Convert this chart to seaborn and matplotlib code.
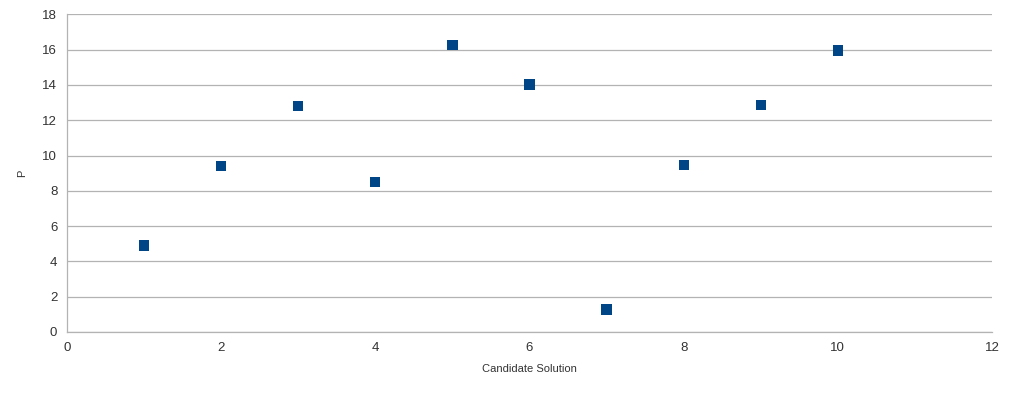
import matplotlib
matplotlib.use("Agg")
import matplotlib.pyplot as plt
import seaborn as sns
import pandas as pd

# values
candidates = [1, 2, 3, 4, 5, 6, 7, 8, 9, 10]
p_values = [4.91, 9.39, 12.81, 8.49, 16.25, 14.02, 1.28, 9.48, 12.85, 15.96]
x_ticks = [0, 2, 4, 6, 8, 10, 12]
y_ticks = [0, 2, 4, 6, 8, 10, 12, 14, 16, 18]

df = pd.DataFrame({"Candidate Solution": candidates, "P": p_values})

sns.set_style("white")
plt.rcParams["font.family"] = ["Liberation Sans", "DejaVu Sans"]

fig = plt.figure(figsize=(10.24, 3.93), dpi=100)
ax = fig.add_axes([67 / 1024, 61 / 393, 925 / 1024, 317.6 / 393])

sns.scatterplot(data=df, x="Candidate Solution", y="P", marker="s", s=55,
                color="#004586", edgecolor="none", ax=ax, zorder=3)

ax.set_xlim(0, 12)
ax.set_ylim(0, 18)
ax.set_xticks(x_ticks)
ax.set_yticks(y_ticks)
ax.yaxis.grid(True, color="#b3b3b3", linewidth=0.9)
ax.set_axisbelow(True)

for side in ["top", "right"]:
    ax.spines[side].set_visible(False)
for side in ["left", "bottom"]:
    ax.spines[side].set_color("#b3b3b3")
    ax.spines[side].set_linewidth(0.9)

ax.tick_params(axis="both", which="both", length=4, width=0.9, color="#b3b3b3",
               labelsize=9.5, labelcolor="#333333", direction="out", pad=3)

ax.set_xlabel("Candidate Solution", fontsize=8, color="#333333", va="center")
ax.set_ylabel("P", fontsize=8, color="#333333", va="center")
ax.xaxis.set_label_coords(0.5, -37 / 317.6)
ax.yaxis.set_label_coords(-45 / 925, 0.5)

fig.savefig("out.png", dpi=100)
